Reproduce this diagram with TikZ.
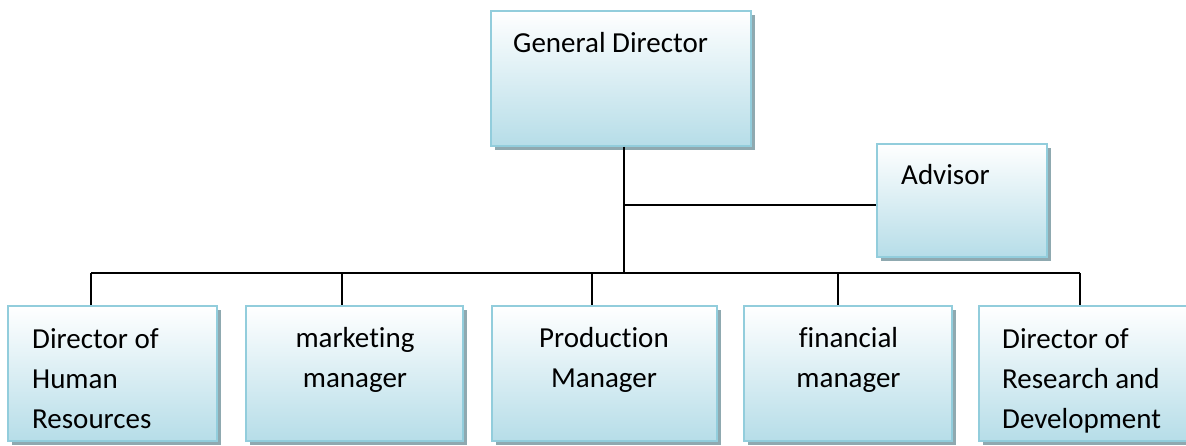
\documentclass[tikz,border=0pt]{standalone}
\usepackage{fontspec}
\setmainfont{Carlito}[Ligatures=NoCommon]
\usetikzlibrary{shadows}
\definecolor{boxline}{HTML}{92CDDC}
\definecolor{boxfill}{HTML}{B6DDE8}
\definecolor{shadowc}{HTML}{8FA9B0}
\tikzset{
  orgbox/.style={draw=boxline, line width=1.8pt, top color=white, bottom color=boxfill,
    rectangle, inner sep=0pt, drop shadow={shadow xshift=4pt, shadow yshift=-4pt, fill=shadowc, opacity=1}},
  lbl/.style={inner sep=0pt, font=\fontsize{29}{40}\selectfont},
  conn/.style={line width=1.5pt, black}
}
\begin{document}
\begin{tikzpicture}[x=1pt,y=-1pt]
\useasboundingbox (0,0) rectangle (1186,445);
% boxes
\node[orgbox, minimum width=260pt, minimum height=135pt] (gd) at (621,78.5) {};
\node[orgbox, minimum width=170pt, minimum height=113pt] (adv) at (962,200.5) {};
\node[orgbox, minimum width=209pt, minimum height=135pt] (b1) at (112.5,373.5) {};
\node[orgbox, minimum width=217pt, minimum height=135pt] (b2) at (354.5,373.5) {};
\node[orgbox, minimum width=225pt, minimum height=135pt] (b3) at (604.5,373.5) {};
\node[orgbox, minimum width=208pt, minimum height=135pt] (b4) at (848,373.5) {};
\node[orgbox, minimum width=210pt, minimum height=135pt] (b5) at (1084,373.5) {};
% labels (base anchor = baseline of last line)
\node[lbl, anchor=base west] (tgd) at (513,52) {General Director};
\node[lbl, anchor=base west] (tadv) at (901,184) {Advisor};
\node[lbl, anchor=base west, align=left] (t1) at (32,428) {Director of\\Human\\Resources};
\node[lbl, anchor=base, align=center] (t2) at (355,387) {marketing\\manager};
\node[lbl, anchor=base, align=center] (t3) at (604,387) {Production\\Manager};
\node[lbl, anchor=base, align=center] (t4) at (848.5,387) {financial\\manager};
\node[lbl, anchor=base west, align=left] (t5) at (1002,428) {Director of\\Research and\\Development};
% connectors
\coordinate (j) at (624,273);
\coordinate (a) at (624,205);
\coordinate (d1) at (91,273);
\coordinate (d2) at (342,273);
\coordinate (d3) at (592,273);
\coordinate (d4) at (838,273);
\coordinate (d5) at (1080,273);
\draw[conn] (gd.south -| j) -- (j);
\draw[conn] (a) -- (a -| adv.west);
\draw[conn] (d1) -- (d5);
\draw[conn] (d1) -- (d1 |- b1.north);
\draw[conn] (d2) -- (d2 |- b2.north);
\draw[conn] (d3) -- (d3 |- b3.north);
\draw[conn] (d4) -- (d4 |- b4.north);
\draw[conn] (d5) -- (d5 |- b5.north);
\end{tikzpicture}
\end{document}
